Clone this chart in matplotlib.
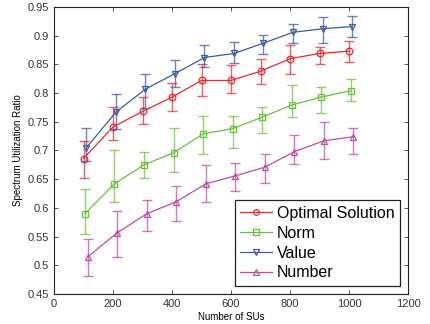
import matplotlib
matplotlib.use("Agg")
import matplotlib.pyplot as plt

plt.rcParams['font.family'] = ['Liberation Sans', 'DejaVu Sans']

num_sus = [100, 200, 300, 400, 500, 600, 700, 800, 900, 1000]
x_offsets = [0, 5, 10, 15]

optimal = [0.686, 0.741, 0.768, 0.793, 0.822, 0.822, 0.838, 0.860, 0.869, 0.873]
optimal_hi = [0.716, 0.775, 0.794, 0.818, 0.850, 0.849, 0.859, 0.883, 0.880, 0.890]
optimal_lo = [0.652, 0.718, 0.746, 0.769, 0.795, 0.800, 0.815, 0.833, 0.850, 0.854]

norm = [0.590, 0.642, 0.675, 0.696, 0.729, 0.738, 0.758, 0.779, 0.793, 0.804]
norm_hi = [0.633, 0.700, 0.697, 0.739, 0.760, 0.760, 0.775, 0.814, 0.811, 0.825]
norm_lo = [0.555, 0.611, 0.652, 0.662, 0.694, 0.704, 0.730, 0.758, 0.765, 0.786]

value = [0.705, 0.767, 0.807, 0.834, 0.862, 0.869, 0.887, 0.906, 0.912, 0.916]
value_hi = [0.740, 0.798, 0.833, 0.857, 0.884, 0.889, 0.902, 0.920, 0.932, 0.935]
value_lo = [0.681, 0.737, 0.774, 0.810, 0.846, 0.852, 0.868, 0.888, 0.887, 0.898]

number = [0.515, 0.557, 0.590, 0.611, 0.642, 0.656, 0.671, 0.698, 0.717, 0.724]
number_hi = [0.545, 0.595, 0.614, 0.638, 0.674, 0.679, 0.694, 0.727, 0.749, 0.740]
number_lo = [0.481, 0.515, 0.560, 0.577, 0.610, 0.629, 0.643, 0.676, 0.685, 0.694]

series = [
    ("Optimal Solution", optimal, optimal_lo, optimal_hi, "#f0262b", "o"),
    ("Norm", norm, norm_lo, norm_hi, "#66c23a", "s"),
    ("Value", value, value_lo, value_hi, "#3a5aa8", "v"),
    ("Number", number, number_lo, number_hi, "#c04aa8", "^"),
]

fig = plt.figure(figsize=(4.3, 3.24), dpi=100)
ax = fig.add_axes([0.1256, 0.0926, 0.8234, 0.8858])

handles = []
for (name, y, lo, hi, color, marker), dx in zip(series, x_offsets):
    xs = [x + dx for x in num_sus]
    err = [[v - l for v, l in zip(y, lo)], [h - v for v, h in zip(y, hi)]]
    ax.errorbar(xs, y, yerr=err, fmt='none', ecolor=color, elinewidth=1.0,
                capsize=3.5, capthick=1.0, alpha=0.75)
    h, = ax.plot(xs, y, color=color, marker=marker, markersize=4.8,
                 markerfacecolor='none', markeredgecolor=color, lw=0.9,
                 markeredgewidth=0.9, label=name)
    handles.append(h)

ax.set_xlim(0, 1200)
ax.set_ylim(0.45, 0.95)
ax.set_xticks(range(0, 1201, 200))
ax.set_yticks([0.45, 0.5, 0.55, 0.6, 0.65, 0.7, 0.75, 0.8, 0.85, 0.9, 0.95])
ax.set_yticklabels(['0.45', '0.5', '0.55', '0.6', '0.65', '0.7', '0.75',
                    '0.8', '0.85', '0.9', '0.95'])
ax.tick_params(direction='in', top=True, right=True, labelsize=8,
               length=3, width=0.6, colors='#333333')
for s in ax.spines.values():
    s.set_linewidth(0.8)
    s.set_color('#222222')

ax.set_xlabel('Number of SUs', fontsize=7, labelpad=2)
ax.set_ylabel('Spectrum Utilization Ratio', fontsize=7, labelpad=3)

leg = ax.legend(handles=handles, loc='lower right', fontsize=11.5,
                fancybox=False, framealpha=1, edgecolor='#222222',
                handlelength=2.0, handletextpad=0.3, borderpad=0.35,
                labelspacing=0.3, borderaxespad=0.5, markerscale=0.85)
leg.get_frame().set_linewidth(0.9)

fig.savefig('out.png', dpi=100)
